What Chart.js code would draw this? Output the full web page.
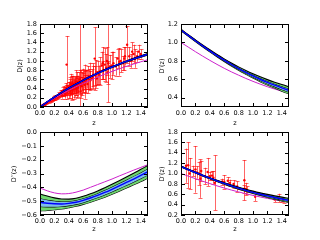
<!DOCTYPE html>
<html>
<head>
<meta charset="utf-8">
<script src="https://cdn.jsdelivr.net/npm/chart.js@4.4.0/dist/chart.umd.min.js"></script>
<style>
  html, body { margin: 0; padding: 0; background: #fff; }
  #wrap { position: relative; width: 320px; height: 240px; overflow: hidden; }
  #wrap canvas { position: absolute; left: 0; top: 0; }
  .lbl { position: absolute; font: 6.5px "DejaVu Sans", sans-serif; color: #000; white-space: nowrap;
         line-height: 1; transform: translate(-50%, -50%); }
  .lbl.rot { transform: translate(-50%, -50%) rotate(-90deg); }
</style>
</head>
<body>
<div id="wrap">
  <canvas id="pD" width="320" height="240"></canvas>
  <canvas id="pD1" width="320" height="240"></canvas>
  <canvas id="pD2" width="320" height="240"></canvas>
  <canvas id="pHz" width="320" height="240"></canvas>
</div>
<script>
// redshift grid for the reconstructed curves
const zGrid = [0, 0.1, 0.2, 0.3, 0.4, 0.5, 0.6, 0.7, 0.8, 0.9, 1.0, 1.1, 1.2, 1.3, 1.4, 1.5];
const zTicks = [0, 0.2, 0.4, 0.6, 0.8, 1.0, 1.2, 1.4];

// D(z)
const dCenter  = [0, 0.1106, 0.2153, 0.3144, 0.4080, 0.4963, 0.5796, 0.6580, 0.7319, 0.8016, 0.8673, 0.9292, 0.9877, 1.0430, 1.0953, 1.1448];
const dOuterUp = [0, 0.1116, 0.2173, 0.3174, 0.4120, 0.5013, 0.5856, 0.6650, 0.7399, 0.8106, 0.8773, 0.9402, 0.9997, 1.0560, 1.1093, 1.1598];
const dInnerUp = [0, 0.1111, 0.2163, 0.3159, 0.4100, 0.4988, 0.5826, 0.6615, 0.7359, 0.8061, 0.8723, 0.9347, 0.9937, 1.0495, 1.1023, 1.1523];
const dInnerLo = [0, 0.1101, 0.2143, 0.3129, 0.4060, 0.4938, 0.5766, 0.6545, 0.7279, 0.7971, 0.8623, 0.9237, 0.9817, 1.0365, 1.0883, 1.1373];
const dOuterLo = [0, 0.1096, 0.2133, 0.3114, 0.4040, 0.4913, 0.5736, 0.6510, 0.7239, 0.7926, 0.8573, 0.9182, 0.9757, 1.0300, 1.0813, 1.1298];
const dModel   = [0, 0.0975, 0.1900, 0.2776, 0.3605, 0.4389, 0.5130, 0.5831, 0.6494, 0.7122, 0.7716, 0.8279, 0.8813, 0.9321, 0.9805, 1.0267];
const dTicks = [0, 0.2, 0.4, 0.6, 0.8, 1.0, 1.2, 1.4, 1.6, 1.8];

// D'(z)
const d1Center  = [1.135, 1.076, 1.019, 0.963, 0.909, 0.857, 0.808, 0.761, 0.717, 0.676, 0.637, 0.601, 0.568, 0.537, 0.508, 0.481];
const d1OuterUp = [1.143, 1.084, 1.028, 0.973, 0.920, 0.869, 0.822, 0.777, 0.735, 0.696, 0.660, 0.627, 0.597, 0.569, 0.544, 0.521];
const d1InnerUp = [1.139, 1.080, 1.024, 0.968, 0.915, 0.863, 0.815, 0.769, 0.726, 0.686, 0.649, 0.614, 0.583, 0.553, 0.526, 0.501];
const d1InnerLo = [1.131, 1.072, 1.014, 0.958, 0.903, 0.851, 0.801, 0.753, 0.708, 0.666, 0.625, 0.588, 0.553, 0.521, 0.490, 0.461];
const d1OuterLo = [1.127, 1.068, 1.010, 0.953, 0.898, 0.845, 0.794, 0.745, 0.699, 0.656, 0.614, 0.575, 0.539, 0.505, 0.472, 0.441];
const d1Model   = [1.000, 0.950, 0.900, 0.852, 0.806, 0.762, 0.720, 0.681, 0.645, 0.610, 0.578, 0.548, 0.520, 0.495, 0.472, 0.452];
const d1Ticks = [0.4, 0.6, 0.8, 1.0, 1.2];
const hzTicks = [0.2, 0.4, 0.6, 0.8, 1.0, 1.2, 1.4, 1.6, 1.8];

// D''(z)
const d2Center  = [-0.509, -0.515, -0.519, -0.520, -0.516, -0.508, -0.494, -0.477, -0.458, -0.437, -0.414, -0.390, -0.365, -0.340, -0.314, -0.287];
const d2OuterUp = [-0.448, -0.463, -0.476, -0.484, -0.485, -0.479, -0.465, -0.447, -0.426, -0.403, -0.378, -0.352, -0.325, -0.298, -0.270, -0.242];
const d2InnerUp = [-0.479, -0.489, -0.497, -0.502, -0.500, -0.493, -0.479, -0.462, -0.442, -0.420, -0.396, -0.371, -0.345, -0.319, -0.292, -0.264];
const d2InnerLo = [-0.539, -0.541, -0.541, -0.538, -0.532, -0.523, -0.509, -0.492, -0.474, -0.454, -0.432, -0.409, -0.385, -0.361, -0.336, -0.310];
const d2OuterLo = [-0.570, -0.567, -0.562, -0.556, -0.547, -0.537, -0.523, -0.507, -0.490, -0.471, -0.450, -0.428, -0.405, -0.382, -0.358, -0.332];
const d2Model   = [-0.405, -0.425, -0.440, -0.447, -0.445, -0.435, -0.420, -0.400, -0.380, -0.360, -0.340, -0.318, -0.297, -0.276, -0.256, -0.236];
const d2Ticks = [-0.6, -0.5, -0.4, -0.3, -0.2, -0.1, 0];

// supernova distances (top left)
const snZ = [0.01, 0.015, 0.02, 0.025, 0.03, 0.035, 0.04, 0.045, 0.05, 0.06, 0.07, 0.08, 0.09, 0.1, 0.12, 0.14, 0.16, 0.18, 0.2, 0.22,
  0.24, 0.25, 0.26, 0.28, 0.3, 0.31, 0.32, 0.33, 0.34, 0.35, 0.36, 0.37, 0.37, 0.38, 0.39, 0.4, 0.41, 0.42, 0.43, 0.44,
  0.45, 0.46, 0.47, 0.48, 0.49, 0.5, 0.51, 0.52, 0.53, 0.54, 0.55, 0.56, 0.58, 0.6, 0.62, 0.63, 0.65, 0.67, 0.7, 0.72,
  0.74, 0.76, 0.78, 0.8, 0.82, 0.84, 0.86, 0.88, 0.9, 0.92, 0.94, 0.95, 0.97, 1.0, 1.02, 1.05, 1.08, 1.1, 1.12, 1.15,
  1.18, 1.21, 1.24, 1.26, 1.3, 1.32, 1.35, 1.37, 1.4,
  0.15, 0.17, 0.19, 0.21, 0.23, 0.27, 0.29, 0.3, 0.32, 0.34, 0.35, 0.36, 0.38, 0.4, 0.41, 0.42, 0.43, 0.44, 0.45, 0.46,
  0.47, 0.48, 0.5, 0.5, 0.52, 0.53, 0.55, 0.56, 0.57, 0.58, 0.6, 0.61, 0.62, 0.64, 0.66, 0.68, 0.7, 0.73, 0.77, 0.79,
  0.87, 0.93, 1.17, 1.28];
const snD = [0.01, 0.015, 0.02, 0.024, 0.03, 0.033, 0.04, 0.043, 0.05, 0.058, 0.068, 0.078, 0.088, 0.097, 0.115, 0.135, 0.152, 0.17, 0.19, 0.21,
  0.235, 0.24, 0.25, 0.27, 0.29, 0.31, 0.30, 0.33, 0.31, 0.35, 0.34, 0.42, 0.92, 0.38, 0.36, 0.42, 0.40, 0.45, 0.38, 0.43,
  0.48, 0.41, 0.46, 0.50, 0.44, 0.47, 0.52, 0.45, 0.50, 0.55, 0.60, 0.50, 0.56, 0.58, 0.54, 0.62, 0.60, 0.64, 0.66, 0.62,
  0.70, 1.05, 0.72, 0.75, 0.70, 0.78, 0.90, 0.80, 0.92, 0.85, 0.75, 0.95, 0.88, 0.90, 0.95, 0.88, 1.05, 0.98, 1.00, 0.95,
  1.10, 1.35, 1.10, 1.00, 1.15, 1.05, 1.10, 1.20, 1.15,
  0.14, 0.16, 0.19, 0.20, 0.22, 0.27, 0.30, 0.26, 0.35, 0.36, 0.28, 0.40, 0.33, 0.37, 0.45, 0.35, 0.50, 0.36, 0.42, 0.50,
  0.38, 0.44, 0.55, 0.40, 0.48, 0.42, 0.47, 0.56, 0.50, 0.45, 0.52, 0.60, 0.48, 0.56, 0.50, 0.60, 0.58, 0.65, 0.68, 0.62,
  0.95, 1.00, 1.05, 1.20];
const snErr = [0.005, 0.005, 0.006, 0.006, 0.007, 0.007, 0.008, 0.008, 0.009, 0.01, 0.01, 0.012, 0.012, 0.015, 0.02, 0.02, 0.025, 0.025, 0.03, 0.03,
  0.035, 0.04, 0.04, 0.04, 0.05, 0.05, 0.06, 0.06, 0.07, 0.08, 0.08, 0.05, 0.62, 0.1, 0.1, 0.12, 0.08, 0.15, 0.1, 0.12,
  0.2, 0.1, 0.15, 0.12, 0.1, 0.2, 0.15, 0.12, 0.18, 0.2, 1.3, 0.15, 0.2, 0.25, 0.15, 0.3, 0.2, 0.25, 0.3, 0.2,
  0.25, 0.68, 0.3, 0.25, 0.2, 0.3, 0.3, 0.2, 0.35, 0.3, 0.25, 0.85, 0.25, 0.3, 0.25, 0.2, 0.2, 0.3, 0.25, 0.15,
  0.2, 0.4, 0.2, 0.15, 0.2, 0.2, 0.12, 0.15, 0.1,
  0.03, 0.04, 0.04, 0.05, 0.05, 0.06, 0.07, 0.08, 0.08, 0.1, 0.1, 0.12, 0.15, 0.18, 0.2, 0.15, 0.22, 0.2, 0.25, 0.18,
  0.2, 0.22, 0.25, 0.15, 0.28, 0.2, 0.18, 0.25, 0.3, 0.2, 0.22, 0.2, 0.3, 0.25, 0.2, 0.22, 0.2, 0.25, 0.2, 0.15,
  0.35, 0.3, 0.25, 0.2];

// H(z) derived D'(z) points (bottom right)
const hzZ = [0.07, 0.1, 0.12, 0.17, 0.2, 0.22, 0.25, 0.27, 0.28, 0.33, 0.37, 0.4, 0.43, 0.45, 0.47, 0.57, 0.6, 0.65, 0.68, 0.73,
  0.78, 0.87, 0.88, 0.9, 0.92, 1.03, 1.3, 1.36, 1.4, 1.43];
const hzDp = [1.15, 1.16, 1.0, 1.05, 1.08, 1.02, 1.0, 0.9, 1.05, 0.95, 1.03, 0.95, 0.96, 0.92, 0.82, 0.84, 0.84, 0.86, 0.82, 0.8,
  0.75, 0.7, 0.87, 0.7, 0.68, 0.55, 0.5, 0.53, 0.5, 0.48];
const hzErr = [0.33, 0.44, 0.3, 0.1, 0.45, 0.12, 0.22, 0.37, 0.2, 0.16, 0.27, 0.08, 0.08, 0.12, 0.53, 0.06, 0.13, 0.07, 0.06, 0.07,
  0.1, 0.07, 0.39, 0.12, 0.07, 0.08, 0.05, 0.08, 0.04, 0.04];

const FONT_FAMILY = '"DejaVu Sans", sans-serif';
const FONT_SIZE = 6.5;
const GREEN = 'rgba(110, 215, 110, 1)';
const LIGHTBLUE = 'rgba(125, 190, 235, 1)';
const MAGENTA = '#cc22cc';
const ERR_RED = 'rgba(255, 0, 0, 0.6)';

Chart.defaults.font.family = FONT_FAMILY;
Chart.defaults.font.size = FONT_SIZE;
Chart.defaults.color = '#000';
Chart.defaults.animation = false;

const pts = (xs, ys) => xs.map((x, i) => ({ x: x, y: ys[i] }));
const fmt = v => (v < 0 ? '\u2212' : '') + Math.abs(v).toFixed(1);

function bandSets(oUp, iUp, ctr, iLo, oLo, model) {
  const edge = { borderColor: '#000', borderWidth: 1.1, pointRadius: 0, cubicInterpolationMode: 'monotone', order: 2 };
  return [
    Object.assign({ data: pts(zGrid, oUp), fill: '+1', backgroundColor: GREEN }, edge),
    Object.assign({ data: pts(zGrid, iUp), fill: '+1', backgroundColor: LIGHTBLUE }, edge),
    Object.assign({ data: pts(zGrid, iLo), fill: '+1', backgroundColor: GREEN }, edge),
    Object.assign({ data: pts(zGrid, oLo), fill: false }, edge),
    { data: pts(zGrid, ctr), borderColor: '#0000ff', borderWidth: 1.4, pointRadius: 0, fill: false, cubicInterpolationMode: 'monotone', order: 1 },
    { data: pts(zGrid, model), borderColor: MAGENTA, borderWidth: 1, pointRadius: 0, fill: false, cubicInterpolationMode: 'monotone', order: 3 }
  ];
}

function pointSet(xs, ys, errs) {
  return { data: pts(xs, ys), errs: errs, showLine: false, pointRadius: 1.2, pointBorderWidth: 0,
    pointBackgroundColor: '#ff0000', borderColor: '#ff0000', fill: false, order: 5 };
}

// error bars drawn with the chart's own scales
const errorBars = {
  id: 'errorBars',
  beforeDatasetsDraw(chart) {
    const { ctx, chartArea: a, scales } = chart;
    ctx.save();
    ctx.beginPath();
    ctx.rect(a.left, a.top, a.right - a.left, a.bottom - a.top);
    ctx.clip();
    ctx.strokeStyle = ERR_RED;
    ctx.lineWidth = 1;
    chart.data.datasets.forEach(ds => {
      if (!ds.errs) return;
      ds.data.forEach((p, i) => {
        const px = Math.round(scales.x.getPixelForValue(p.x)) + 0.5;
        const y1 = scales.y.getPixelForValue(p.y + ds.errs[i]);
        const y2 = scales.y.getPixelForValue(p.y - ds.errs[i]);
        ctx.beginPath();
        ctx.moveTo(px, y1); ctx.lineTo(px, y2);
        ctx.moveTo(px - 2, Math.round(y1) + 0.5); ctx.lineTo(px + 2, Math.round(y1) + 0.5);
        ctx.moveTo(px - 2, Math.round(y2) + 0.5); ctx.lineTo(px + 2, Math.round(y2) + 0.5);
        ctx.stroke();
      });
    });
    ctx.restore();
  }
};

// frame and inward ticks on all four sides
const frame = {
  id: 'frame',
  afterDraw(chart) {
    const { ctx, chartArea: a, scales } = chart;
    ctx.save();
    ctx.strokeStyle = '#000';
    ctx.lineWidth = 1;
    ctx.strokeRect(a.left + 0.5, a.top + 0.5, a.right - a.left - 1, a.bottom - a.top - 1);
    ctx.beginPath();
    scales.x.ticks.forEach(t => {
      const px = Math.round(scales.x.getPixelForValue(t.value)) + 0.5;
      ctx.moveTo(px, a.bottom); ctx.lineTo(px, a.bottom - 4);
      ctx.moveTo(px, a.top); ctx.lineTo(px, a.top + 4);
    });
    scales.y.ticks.forEach(t => {
      const py = Math.round(scales.y.getPixelForValue(t.value)) + 0.5;
      ctx.moveTo(a.left, py); ctx.lineTo(a.left + 4, py);
      ctx.moveTo(a.right, py); ctx.lineTo(a.right - 4, py);
    });
    ctx.stroke();
    ctx.restore();
  }
};

function addLabel(text, x, y, rotated) {
  const el = document.createElement('div');
  el.className = rotated ? 'lbl rot' : 'lbl';
  el.textContent = text;
  el.style.left = x + 'px';
  el.style.top = y + 'px';
  document.getElementById('wrap').appendChild(el);
}

function makePanel(id, box, yMin, yMax, yTicks, datasets, yTitle, yTitleX, xTitleY) {
  const axisW = 30, axisH = 20;
  addLabel('z', (box.left + box.right) / 2, xTitleY, false);
  addLabel(yTitle, yTitleX, (box.top + box.bottom) / 2, true);
  return new Chart(document.getElementById(id), {
    type: 'line',
    data: { datasets: datasets },
    options: {
      responsive: false,
      animation: false,
      layout: { padding: { left: box.left - axisW, top: box.top, right: 320 - box.right, bottom: 240 - box.bottom - axisH } },
      plugins: { legend: { display: false }, tooltip: { enabled: false } },
      scales: {
        x: {
          type: 'linear', min: 0, max: 1.5,
          grid: { display: false, drawTicks: false }, border: { display: false },
          afterBuildTicks: s => { s.ticks = zTicks.map(v => ({ value: v })); },
          afterFit: s => { s.height = axisH; },
          ticks: { callback: fmt, autoSkip: false, maxRotation: 0, padding: 2 }
        },
        y: {
          type: 'linear', min: yMin, max: yMax,
          grid: { display: false, drawTicks: false }, border: { display: false },
          afterBuildTicks: s => { s.ticks = yTicks.map(v => ({ value: v })); },
          afterFit: s => { s.width = axisW; },
          ticks: { callback: fmt, autoSkip: false, padding: 3 }
        }
      }
    },
    plugins: [errorBars, frame]
  });
}

makePanel('pD', { left: 40, top: 24, right: 148, bottom: 107 }, 0, 1.8, dTicks,
  bandSets(dOuterUp, dInnerUp, dCenter, dInnerLo, dOuterLo, dModel).concat([pointSet(snZ, snD, snErr)]),
  'D(z)', 20, 122.5);

makePanel('pD1', { left: 181, top: 24, right: 289, bottom: 107 }, 0.3, 1.2, d1Ticks,
  bandSets(d1OuterUp, d1InnerUp, d1Center, d1InnerLo, d1OuterLo, d1Model),
  'D\u2032(z)', 162, 122.5);

makePanel('pD2', { left: 40, top: 132, right: 148, bottom: 215 }, -0.6, 0, d2Ticks,
  bandSets(d2OuterUp, d2InnerUp, d2Center, d2InnerLo, d2OuterLo, d2Model),
  'D\u2032\u2032(z)', 13.5, 228.5);

makePanel('pHz', { left: 181, top: 132, right: 289, bottom: 215 }, 0.2, 1.8, hzTicks,
  bandSets(d1OuterUp, d1InnerUp, d1Center, d1InnerLo, d1OuterLo, d1Model).concat([pointSet(hzZ, hzDp, hzErr)]),
  'D\u2032(z)', 162, 228.5);
</script>
</body>
</html>
